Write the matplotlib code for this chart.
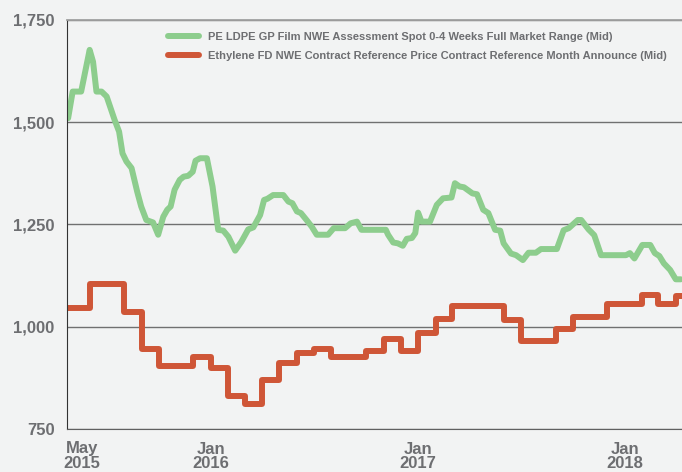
import pandas as pd
import matplotlib.pyplot as plt
import matplotlib.transforms as mtransforms

BG = "#f2f3f3"
TXT = "#6d6e71"
GREEN = "#8dcd8d"
RED = "#cf5637"

PE_LABEL = "PE LDPE GP Film NWE Assessment Spot 0-4 Weeks Full Market Range (Mid)"
ETH_LABEL = "Ethylene FD NWE Contract Reference Price Contract Reference Month Announce (Mid)"

# PE LDPE weekly assessment
pe_dates = [
    "2015-04-24", "2015-05-02", "2015-05-17", "2015-06-01", "2015-06-07", "2015-06-13",
    "2015-06-22", "2015-07-01", "2015-07-15", "2015-07-23", "2015-07-29", "2015-08-05",
    "2015-08-14", "2015-08-24", "2015-08-31", "2015-09-09", "2015-09-21", "2015-09-30",
    "2015-10-09", "2015-10-16", "2015-10-22", "2015-10-29", "2015-11-07", "2015-11-14",
    "2015-11-22", "2015-11-30", "2015-12-05", "2015-12-13", "2015-12-25", "2016-01-04",
    "2016-01-14", "2016-01-23", "2016-02-01", "2016-02-13", "2016-02-24", "2016-03-07",
    "2016-03-16", "2016-03-28", "2016-04-04", "2016-04-10", "2016-04-20", "2016-05-08",
    "2016-05-17", "2016-05-24", "2016-06-01", "2016-06-08", "2016-06-18", "2016-06-27",
    "2016-07-06", "2016-07-26", "2016-08-05", "2016-08-25", "2016-09-04", "2016-09-15",
    "2016-09-23", "2016-11-05", "2016-11-09", "2016-11-18", "2016-11-26", "2016-12-05",
    "2016-12-12", "2016-12-21", "2016-12-27", "2017-01-01", "2017-01-07", "2017-01-22",
    "2017-02-03", "2017-02-14", "2017-03-01", "2017-03-07", "2017-03-15", "2017-03-23",
    "2017-04-07", "2017-04-15", "2017-04-26", "2017-05-05", "2017-05-17", "2017-05-26",
    "2017-06-01", "2017-06-14", "2017-06-23", "2017-07-05", "2017-07-15", "2017-07-28",
    "2017-08-06", "2017-09-03", "2017-09-15", "2017-09-24", "2017-10-10", "2017-10-16",
    "2017-10-29", "2017-11-08", "2017-11-20", "2018-01-03", "2018-01-10", "2018-01-18",
    "2018-02-01", "2018-02-15", "2018-02-23", "2018-03-03", "2018-03-11", "2018-03-22",
    "2018-04-01", "2018-04-10",
]
pe_values = [
    1510, 1575, 1575, 1677, 1648, 1575,
    1575, 1563, 1506, 1477, 1424, 1404,
    1388, 1330, 1294, 1261, 1255, 1225,
    1269, 1286, 1294, 1335, 1359, 1367,
    1369, 1379, 1406, 1412, 1412, 1343,
    1237, 1235, 1220, 1186, 1208, 1238,
    1243, 1273, 1310, 1313, 1322, 1322,
    1306, 1302, 1282, 1278, 1261, 1245,
    1225, 1225, 1241, 1241, 1253, 1257,
    1237, 1237, 1225, 1206, 1204, 1198,
    1215, 1217, 1229, 1279, 1257, 1257,
    1298, 1314, 1316, 1351, 1343, 1341,
    1326, 1324, 1286, 1278, 1237, 1235,
    1204, 1179, 1175, 1163, 1181, 1181,
    1190, 1190, 1236, 1241, 1261, 1261,
    1238, 1224, 1175, 1175, 1180, 1167,
    1200, 1200, 1180, 1173, 1155, 1139,
    1116, 1116,
]

# Ethylene monthly contract price
eth_dates = [
    "2015-04-01", "2015-05-01", "2015-06-01", "2015-07-01", "2015-08-01", "2015-09-01",
    "2015-10-01", "2015-11-01", "2015-12-01", "2016-01-01", "2016-02-01", "2016-03-01",
    "2016-04-01", "2016-05-01", "2016-06-01", "2016-07-01", "2016-08-01", "2016-09-01",
    "2016-10-01", "2016-11-01", "2016-12-01", "2017-01-01", "2017-02-01", "2017-03-01",
    "2017-04-01", "2017-05-01", "2017-06-01", "2017-07-01", "2017-08-01", "2017-09-01",
    "2017-10-01", "2017-11-01", "2017-12-01", "2018-01-01", "2018-02-01", "2018-03-01",
    "2018-04-01", "2018-04-12",
]
eth_values = [
    1045, 1045, 1105, 1105, 1035, 945,
    905, 905, 927, 900, 830, 810,
    870, 912, 935, 945, 925, 925,
    940, 970, 940, 985, 1020, 1050,
    1050, 1050, 1017, 965, 965, 995,
    1025, 1025, 1055, 1055, 1078, 1055,
    1075, 1075,
]

tick_dates = ["2015-05-01", "2016-01-01", "2017-01-01", "2018-01-01"]
tick_labels = ["May\n2015", "Jan\n2016", "Jan\n2017", "Jan\n2018"]
y_ticks = [750, 1000, 1250, 1500, 1750]

plt.rcParams["font.family"] = ["Liberation Sans", "DejaVu Sans"]

fig = plt.figure(figsize=(6.82, 4.72), dpi=100, facecolor=BG)
ax = fig.add_axes([67 / 682, 1 - 429 / 472, 615 / 682, 409 / 472])
ax.set_facecolor(BG)

ax.plot(pd.to_datetime(pe_dates), pe_values, color=GREEN, lw=4.3,
        solid_joinstyle="round", solid_capstyle="round", label=PE_LABEL)
ax.plot(pd.to_datetime(eth_dates), eth_values, color=RED, lw=4.3, drawstyle="steps-post",
        solid_joinstyle="round", solid_capstyle="round", label=ETH_LABEL)

ax.set_xlim(pd.Timestamp("2015-04-22"), pd.Timestamp("2018-04-12"))
ax.set_ylim(750, 1750)

ax.set_yticks(y_ticks)
ax.set_yticklabels([f"{v:,}" for v in y_ticks])
ax.set_xticks(pd.to_datetime(tick_dates))
ax.set_xticklabels(tick_labels, linespacing=1.0)
ax.tick_params(length=0, labelsize=12, labelcolor=TXT)
ax.tick_params(axis="y", pad=9)
ax.tick_params(axis="x", pad=9)
for lab in ax.get_xticklabels() + ax.get_yticklabels():
    lab.set_fontweight("bold")
first = ax.get_xticklabels()[0]
first.set_transform(first.get_transform() + mtransforms.ScaledTranslation(10 / 100, 0, fig.dpi_scale_trans))

ax.set_axisbelow(True)
ax.grid(axis="y", color="#707070", lw=1)
ax.grid(axis="x", visible=False)
ax.spines["right"].set_visible(False)
ax.spines["top"].set_color("#a0a0a0")
ax.spines["top"].set_linewidth(1.3)
ax.spines["bottom"].set_color("#606060")
ax.spines["left"].set_color("#333333")

leg = ax.legend(loc="upper left", bbox_to_anchor=((168 - 67) / 615, 1 - 12 / 409),
                frameon=False, borderpad=0, borderaxespad=0, handlelength=2.8,
                handletextpad=0.8, labelspacing=0.8,
                prop={"size": 8.05, "weight": "bold"})
for t in leg.get_texts():
    t.set_color(TXT)

fig.savefig("out.png", dpi=100, facecolor=BG)
